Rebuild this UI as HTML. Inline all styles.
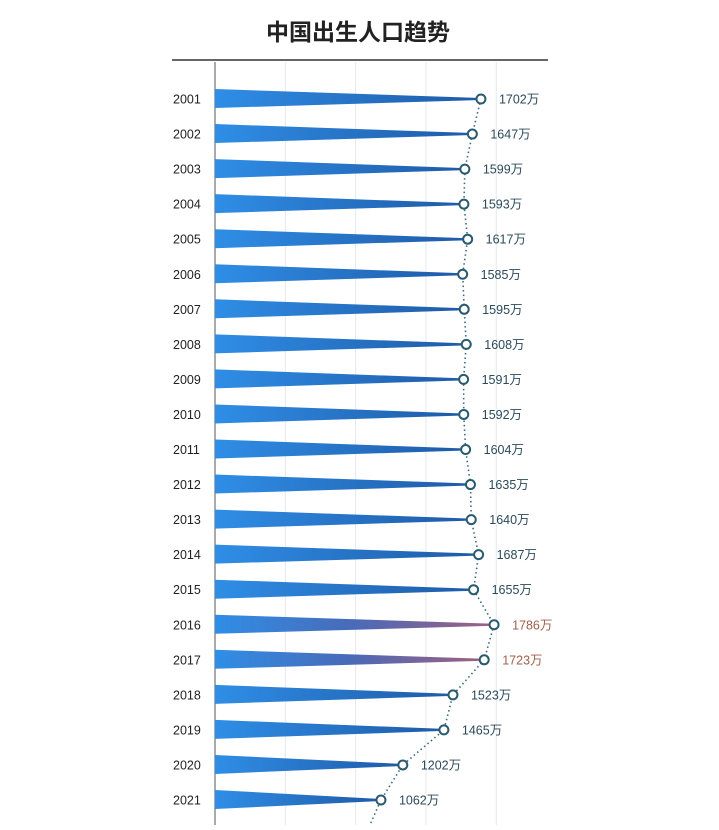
<!DOCTYPE html>
<html><head><meta charset="utf-8">
<style>
html,body{margin:0;padding:0;background:#fff;}
body{width:719px;height:825px;overflow:hidden;font-family:"Liberation Sans","Noto Sans CJK SC",sans-serif;}
</style></head>
<body>
<svg id="chart" width="719" height="825" xmlns="http://www.w3.org/2000/svg">
<defs>
<linearGradient id="gBlue" x1="0" x2="1" y1="0" y2="0">
<stop offset="0" stop-color="#2f8ee6"/><stop offset="1" stop-color="#1f5aa8"/>
</linearGradient>
<linearGradient id="gPurple" x1="0" x2="1" y1="0" y2="0">
<stop offset="0" stop-color="#2f8ee6"/><stop offset="0.5" stop-color="#4a6ab8"/><stop offset="1" stop-color="#a06080"/>
</linearGradient>
</defs>
<text x="358" y="40" text-anchor="middle" font-size="23" font-weight="bold" fill="#222" font-family="Liberation Sans, Noto Sans CJK SC, sans-serif">中国出生人口趋势</text>
<line x1="172" y1="60" x2="548" y2="60" stroke="#333" stroke-width="1.5"/>
<g id="grid"></g>
<line x1="215" y1="62" x2="215" y2="825" stroke="#555" stroke-width="1"/>
<g id="bars"></g>
<path id="trend" fill="none" stroke="#3a6a80" stroke-width="1.6" stroke-dasharray="1.5 3"/>
<g id="marks"></g>
</svg>
<script>
const years = ["2001","2002","2003","2004","2005","2006","2007","2008","2009","2010","2011","2012","2013","2014","2015","2016","2017","2018","2019","2020","2021"];
const births = [1702,1647,1599,1593,1617,1585,1595,1608,1591,1592,1604,1635,1640,1687,1655,1786,1723,1523,1465,1202,1062];
const highlighted = ["2016","2017"];
const gridValues = [450,900,1350,1800];

const NS = "http://www.w3.org/2000/svg";
const x0 = 215, k = 0.15625;
const xs = v => x0 + v * k;
const y0 = 99, step = 35.05;
const ys = i => y0 + i * step;
function mk(tag, attrs, parent){ const e=document.createElementNS(NS,tag); for(const a in attrs) e.setAttribute(a,attrs[a]); parent.appendChild(e); return e; }

const grid = document.getElementById('grid');
gridValues.forEach(g => {
  const l = mk('line',{x1:xs(g),x2:xs(g),y1:62,y2:825,stroke:'#e4e8ec','stroke-width':1},grid);
  
  
});

const bars = document.getElementById('bars');
const marks = document.getElementById('marks');
let pts = [];
years.forEach((yr,i) => {
  const y = ys(i), x = xs(births[i]);
  const hl = highlighted.includes(yr);
  const t = mk('text',{x:173,y:y+4.5,'font-size':12.5,fill:'#222'},bars);
  t.textContent = yr;
  
  
  const p = mk('path',{d:`M${x0} ${y-10} L${x} ${y-1} L${x} ${y+1} L${x0} ${y+9} Z`,fill:hl?'url(#gPurple)':'url(#gBlue)'},bars);
  
  
  pts.push([x,y]);
  const c = mk('circle',{cx:x,cy:y,r:4.5,fill:'#fff',stroke:'#2a5a6e','stroke-width':2},marks);
  
  
  const lb = mk('text',{x:x+18,y:y+4.5,'font-size':12.5,fill:hl?'#a0604a':'#2b4a5a'},marks);
  lb.textContent = births[i] + '万';
  
  
});
const last = pts[pts.length-1];
let d = pts.map((p,i)=>(i?'L':'M')+p[0]+' '+p[1]).join(' ');
d += ` L${last[0]-11} ${825}`;
document.getElementById('trend').setAttribute('d', d);
</script>
</body></html>
